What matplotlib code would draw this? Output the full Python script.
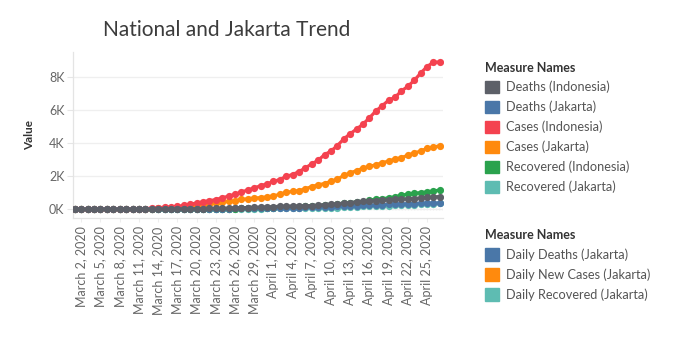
import numpy as np
import pandas as pd
import matplotlib
matplotlib.use("Agg")
import matplotlib.pyplot as plt
from matplotlib.patches import Patch
from matplotlib.ticker import FuncFormatter

plt.rcParams['font.family'] = ['Lato', 'DejaVu Sans']

# daily series, 1 March - 27 April 2020
dates = pd.date_range("2020-03-01", "2020-04-27", freq="D")

cases_indonesia = [
    0, 2, 2, 2, 2, 4, 4, 6, 19, 27, 34, 34, 69, 96, 117, 134, 172, 227, 309, 369, 450,
    514, 579, 686, 790, 893, 1046, 1155, 1285, 1414, 1528,
    1677, 1790, 1986, 2092, 2273, 2491, 2738, 2956, 3293, 3512, 3842, 4241, 4557, 4839,
    5136, 5516, 5923, 6248, 6575, 6760, 7135, 7418, 7775, 8211, 8607, 8882, 8882,
]
cases_jakarta = [
    0, 0, 0, 0, 0, 0, 0, 0, 0, 0, 0, 0, 35, 66, 69, 81, 98, 160, 210, 215, 267,
    307, 353, 424, 472, 515, 598, 627, 675, 698, 741,
    808, 897, 1028, 1071, 1124, 1232, 1369, 1470, 1552, 1691, 1810, 2044, 2186, 2335,
    2474, 2600, 2670, 2815, 2902, 3033, 3112, 3260, 3399, 3506, 3681, 3746, 3832,
]
deaths_indonesia = [
    0, 0, 0, 0, 0, 0, 0, 0, 0, 0, 1, 1, 4, 5, 5, 5, 7, 19, 25, 32, 38,
    48, 49, 55, 58, 78, 87, 102, 114, 122, 136,
    157, 170, 181, 191, 198, 209, 221, 240, 280, 306, 327, 373, 399, 459,
    469, 496, 520, 535, 582, 590, 616, 635, 647, 689, 720, 743, 765,
]
deaths_jakarta = [
    0, 0, 0, 0, 0, 0, 0, 0, 0, 0, 0, 0, 0, 0, 0, 1, 2, 7, 12, 18, 20,
    23, 26, 31, 38, 46, 56, 68, 75, 81, 83,
    85, 88, 90, 93, 95, 110, 133, 138, 142, 156, 170, 181, 199, 216,
    231, 246, 254, 262, 300, 322, 327, 334, 341, 349, 360, 371, 381,
]
recovered_indonesia = [
    0, 0, 0, 0, 0, 0, 0, 0, 0, 0, 0, 0, 5, 5, 8, 8, 9, 11, 15, 16, 20,
    29, 30, 30, 31, 35, 46, 59, 64, 75, 81,
    103, 112, 134, 150, 164, 192, 204, 222, 252, 282, 286, 359, 380, 426,
    446, 548, 607, 631, 686, 747, 842, 913, 960, 1002, 1042, 1107, 1151,
]
recovered_jakarta = [
    0, 0, 0, 0, 0, 0, 0, 0, 0, 0, 0, 0, 0, 0, 0, 2, 3, 5, 8, 11, 13,
    15, 17, 19, 21, 23, 27, 32, 36, 41, 45,
    51, 53, 55, 58, 60, 63, 67, 70, 74, 78, 92, 110, 131, 150,
    170, 182, 195, 207, 221, 236, 251, 266, 283, 299, 316, 336, 356,
]

series = [
    ("Deaths (Indonesia)", deaths_indonesia, "#5d6068"),
    ("Deaths (Jakarta)", deaths_jakarta, "#4a77a8"),
    ("Cases (Indonesia)", cases_indonesia, "#f4424f"),
    ("Cases (Jakarta)", cases_jakarta, "#ff8a0d"),
    ("Recovered (Indonesia)", recovered_indonesia, "#2aa24d"),
    ("Recovered (Jakarta)", recovered_jakarta, "#5ebcb2"),
]
daily_legend = [
    ("Daily Deaths (Jakarta)", "#4a77a8"),
    ("Daily New Cases (Jakarta)", "#ff8a0d"),
    ("Daily Recovered (Jakarta)", "#5ebcb2"),
]

fig = plt.figure(figsize=(6.75, 3.38), dpi=100)
ax = fig.add_axes([0.108, 0.355, 0.548, 0.491])

x = np.arange(len(dates))
# first legend entry ends up on top
for z, (name, vals, color) in enumerate(reversed(series)):
    ax.plot(x, vals, color=color, lw=2.3, marker='o', ms=5.2,
            markeredgewidth=0, zorder=3 + z)

ax.set_xlim(-0.31, len(dates) - 1 + 0.47)
ax.set_ylim(-530, 9490)

ax.set_yticks([0, 2000, 4000, 6000, 8000])
ax.yaxis.set_major_formatter(FuncFormatter(lambda v, p: f"{int(v / 1000)}K"))
ax.grid(axis='y', color='#efefef', lw=0.9, zorder=0)
ax.axhline(0, color='#c4c4c4', lw=0.9, ls=(0, (1, 1.5)), zorder=1)

# label every third day from 2 March
ax.set_xticks(x[1::3])
ax.set_xticklabels([f"{d:%B} {d.day}, {d.year}" for d in dates[1::3]],
                   rotation=90, fontsize=9, color='#666666')
ax.tick_params(axis='y', labelsize=9, labelcolor='#666666', length=4,
               color='#e6e6e6', pad=2)
ax.tick_params(axis='x', length=3, color='#eeeeee', pad=3)

for s in ['top', 'right']:
    ax.spines[s].set_visible(False)
for s in ['left', 'bottom']:
    ax.spines[s].set_color('#e4e4e4')
    ax.spines[s].set_linewidth(0.9)

ax.set_ylabel("Value", fontsize=8.5, fontweight='bold', color='#333333', labelpad=10)
fig.text(0.336, 0.911, "National and Jakarta Trend", ha='center', va='center',
         fontsize=15, color='#3c3c3c')


def measure_legend(handles, top):
    leg = fig.legend(handles=handles, title="Measure Names", loc='upper left',
                     bbox_to_anchor=(0.718, top), frameon=False, fontsize=9.2,
                     title_fontsize=9, handlelength=1.15, handleheight=1.15,
                     handletextpad=0.5, labelspacing=0.57, alignment='left',
                     borderaxespad=0, borderpad=0)
    leg.get_title().set_fontweight('bold')
    leg.get_title().set_color('#333333')
    for t in leg.get_texts():
        t.set_color('#555555')
    return leg


measure_legend([Patch(color=c, label=n) for n, v, c in series], 0.818)
measure_legend([Patch(color=c, label=n) for n, c in daily_legend], 0.323)

fig.savefig("out.png", dpi=100, facecolor='white')
